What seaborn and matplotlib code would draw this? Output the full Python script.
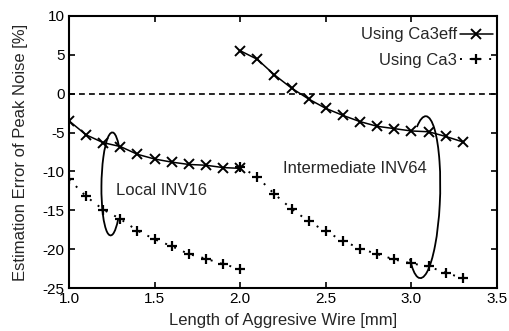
import matplotlib
matplotlib.use("Agg")
import matplotlib.pyplot as plt
import matplotlib.transforms as mtransforms
from matplotlib.patches import Arc
from matplotlib.lines import Line2D
import seaborn as sns
import pandas as pd

# ---- data ----
local_len = [1.0, 1.1, 1.2, 1.3, 1.4, 1.5, 1.6, 1.7, 1.8, 1.9, 2.0]
local_ca3eff = [-3.5, -5.3, -6.3, -6.8, -7.8, -8.4, -8.8, -9.1, -9.2, -9.5, -9.6]
local_ca3 = [-11.0, -13.2, -14.9, -16.1, -17.6, -18.7, -19.6, -20.6, -21.2, -21.9, -22.5]

inter_len = [2.0, 2.1, 2.2, 2.3, 2.4, 2.5, 2.6, 2.7, 2.8, 2.9, 3.0, 3.1, 3.2, 3.3]
inter_ca3eff = [5.5, 4.4, 2.4, 0.7, -0.7, -1.9, -2.8, -3.6, -4.2, -4.5, -4.8, -4.9, -5.5, -6.2]
inter_ca3 = [-9.4, -10.7, -12.9, -14.8, -16.4, -17.7, -18.9, -19.9, -20.6, -21.3, -21.8, -22.2, -23.0, -23.7]

series_names = ["Using Ca3eff", "Using Ca3"]
x_ticks = [1.0, 1.5, 2.0, 2.5, 3.0, 3.5]
y_ticks = [-25, -20, -15, -10, -5, 0, 5, 10]

rows = []
for seg, xs, eff, ca3 in [("local", local_len, local_ca3eff, local_ca3),
                          ("inter", inter_len, inter_ca3eff, inter_ca3)]:
    for x, a, b in zip(xs, eff, ca3):
        rows.append({"len": x, "err": a, "series": series_names[0], "seg": seg})
        rows.append({"len": x, "err": b, "series": series_names[1], "seg": seg})
df = pd.DataFrame(rows)

sns.set_style("ticks")
plt.rcParams['font.family'] = ['Liberation Sans', 'DejaVu Sans']
plt.rcParams['font.size'] = 12

fig = plt.figure(figsize=(5.10, 3.31), dpi=100)
ax = fig.add_axes([69 / 510, 1 - 288.3 / 331, (497 - 69) / 510, (288.3 - 15.7) / 331])

ax.axhline(0, color="black", lw=1.2, ls=(0, (3.5, 2.5)), zorder=1)

styles = {
    series_names[0]: dict(marker="x", ls="-", ms=7, mew=1.4, lw=1.1),
    series_names[1]: dict(marker="+", ls=(0, (1, 4)), ms=7, mew=1.6, lw=1.4),
}
for name in series_names:
    sub = df[df["series"] == name]
    st = styles[name]
    sns.lineplot(data=sub, x="len", y="err", units="seg", estimator=None,
                 color="black", marker=st["marker"], linestyle=st["ls"],
                 markersize=st["ms"], markeredgewidth=st["mew"],
                 markeredgecolor="black", lw=st["lw"], ax=ax, legend=False,
                 sort=False)

ax.set_xlim(1.0, 3.5)
ax.set_ylim(-25, 10)
ax.set_xticks(x_ticks)
ax.set_xticklabels([f"{v:.1f}" for v in x_ticks])
ax.set_yticks(y_ticks)
ax.set_yticklabels([str(v) for v in y_ticks])
ax.tick_params(direction="in", top=True, right=True, length=4, width=1.2,
               labelsize=11, colors="black", pad=3)
for sp in ax.spines.values():
    sp.set_linewidth(1.5)
    sp.set_color("black")
    sp.set_visible(True)

ax.set_xlabel("Length of Aggresive Wire [mm]", fontsize=12, labelpad=5)
ax.set_ylabel("Estimation Error of Peak Noise [%]", fontsize=12)
ax.yaxis.set_label_coords(-0.096, 0.5)

# annotations
ax.text(1.275, -12.5, "Local INV16", fontsize=12, va="center", ha="left")
ax.text(2.248, -9.6, "Intermediate INV64", fontsize=12, va="center", ha="left")

def loop(cx, cy, w_px, h_px, angle, t1, t2):
    tr = fig.dpi_scale_trans + mtransforms.ScaledTranslation(cx, cy, ax.transData)
    ax.add_patch(Arc((0, 0), w_px / 100, h_px / 100, angle=angle, theta1=t1,
                     theta2=t2, transform=tr, color="black", lw=1.3, clip_on=False))

loop(1.248, -11.6, 20, 103, -1, 80, 282)
loop(3.068, -13.3, 34, 162, -2, 260, 97)

handles = [
    Line2D([], [], color="black", marker="x", ls="-", ms=7, mew=1.4, lw=1.1),
    Line2D([], [], color="black", marker="+", ls=(0, (1, 4)), ms=7, mew=1.6, lw=1.4),
]
ax.legend(handles, series_names, loc="upper right", bbox_to_anchor=(1.0, 0.972),
          markerfirst=False, frameon=False, fontsize=12, handlelength=2.0,
          handletextpad=0.15, borderaxespad=0.0, borderpad=0.25, labelspacing=0.65)

fig.savefig("out.png", dpi=100)
